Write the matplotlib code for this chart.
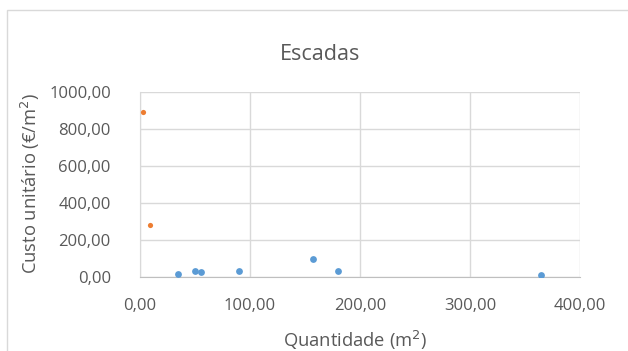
import matplotlib
matplotlib.use("Agg")
import matplotlib.pyplot as plt
from matplotlib.patches import Rectangle
from matplotlib.ticker import FuncFormatter

# Escadas: quantity (m2) vs unit cost (EUR/m2)
series_a_qty = [34.8, 50.3, 55.2, 90.0, 157.6, 179.7, 364.5]
series_a_cost = [15.0, 34.0, 27.0, 34.0, 96.0, 31.0, 11.0]
series_b_qty = [2.4, 9.4]
series_b_cost = [893.0, 283.0]

x_ticks = [0, 100, 200, 300, 400]
y_ticks = [0, 200, 400, 600, 800, 1000]

plt.rcParams['font.family'] = ['Open Sans', 'DejaVu Sans']
text_color = '#595959'
grid_color = '#D9D9D9'

fig = plt.figure(figsize=(6.28, 3.51), dpi=100)
W, H = 628, 351

# Chart-area border
fig.patches.append(Rectangle((7 / W, -0.1), 1.2, (H - 10) / H + 0.1,
                             transform=fig.transFigure, fill=False,
                             edgecolor=grid_color, linewidth=1.0))

ax = fig.add_axes([140 / W, 1 - 277 / H, 440 / W, 185 / H])
ax.scatter(series_a_qty, series_a_cost, s=24, color='#5B9BD5', zorder=3, linewidths=0)
ax.scatter(series_b_qty, series_b_cost, s=14, color='#ED7D31', zorder=3, linewidths=0)

ax.set_xlim(0, 400)
ax.set_ylim(0, 1000)
ax.set_xticks(x_ticks)
ax.set_yticks(y_ticks)
fmt = FuncFormatter(lambda v, p: f"{v:.2f}".replace('.', ','))
ax.xaxis.set_major_formatter(fmt)
ax.yaxis.set_major_formatter(fmt)
ax.grid(True, color=grid_color, linewidth=1.0, zorder=0)
ax.set_axisbelow(True)
for s in ax.spines.values():
    s.set_visible(False)
ax.spines['left'].set_visible(True)
ax.spines['left'].set_color(grid_color)
ax.spines['bottom'].set_visible(True)
ax.spines['bottom'].set_color('#BFBFBF')
ax.tick_params(length=0, labelsize=12, labelcolor=text_color)
ax.tick_params(axis='x', pad=15)
ax.tick_params(axis='y', pad=21)

fig.text(355 / W, 1 - 340 / H, 'Quantidade (m$^2$)', ha='center', va='center',
         fontsize=13.2, color=text_color)
fig.text(30 / W, 1 - 183 / H, 'Custo unitário (€/m$^2$)', ha='center', va='center',
         rotation=90, fontsize=13.2, color=text_color)
fig.text(320 / W, 1 - 55 / H, 'Escadas', ha='center', va='center',
         fontsize=15.5, color=text_color)

fig.savefig('out.png', dpi=100)
